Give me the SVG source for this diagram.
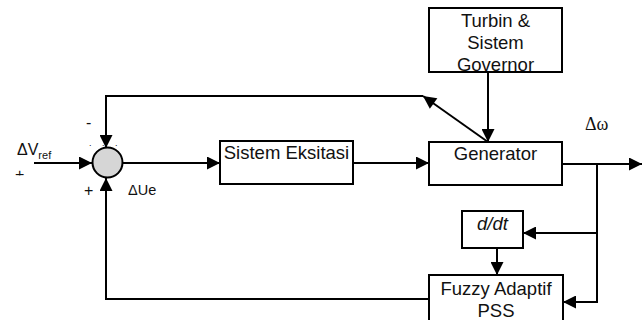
<svg xmlns="http://www.w3.org/2000/svg" width="642" height="320" viewBox="0 0 642 320">
<style>
.box{fill:#fff;stroke:#000;stroke-width:2}
.ln{fill:none;stroke:#000;stroke-width:2}
.t{font-family:"Liberation Sans",Arial,sans-serif;font-size:18.5px;fill:#111;text-anchor:middle}
.s{font-family:"Liberation Sans",Arial,sans-serif;fill:#111}
</style>
<defs>
<marker id="ar" viewBox="0 0 10 10" refX="10" refY="5" markerWidth="15" markerHeight="13" markerUnits="userSpaceOnUse" orient="auto">
<path d="M0,0 L10,5 L0,10 z" fill="#000"/>
</marker>
<clipPath id="cTurbin"><rect x="429" y="8" width="133" height="63"/></clipPath>
<clipPath id="cPlus"><rect x="0" y="165" width="60" height="10.5"/></clipPath>
</defs>
<g id="connectors">
<line class="ln" x1="34" y1="163" x2="92" y2="163" marker-end="url(#ar)"/>
<line class="ln" x1="488" y1="142" x2="423" y2="96" marker-end="url(#ar)"/>
<path class="ln" d="M423,96 H106 V148" marker-end="url(#ar)"/>
<line class="ln" x1="123" y1="163" x2="220" y2="163" marker-end="url(#ar)"/>
<line class="ln" x1="353" y1="163" x2="429" y2="163" marker-end="url(#ar)"/>
<line class="ln" x1="488" y1="72" x2="488" y2="142" marker-end="url(#ar)"/>
<line class="ln" x1="562" y1="164" x2="642" y2="164" marker-end="url(#ar)"/>
<path class="ln" d="M597,164 V302 H563" marker-end="url(#ar)"/>
<line class="ln" x1="597" y1="233" x2="523" y2="233" marker-end="url(#ar)"/>
<line class="ln" x1="497" y1="248" x2="497" y2="275" marker-end="url(#ar)"/>
<path class="ln" d="M429,299 H106 V178" marker-end="url(#ar)"/>
</g>
<g id="sum">
<ellipse cx="107.5" cy="162.5" rx="15" ry="15" fill="#d6d6d6" stroke="#000" stroke-width="2"/>
<text class="s" x="86" y="128" font-size="16">-</text>
<text class="s" x="89" y="146" font-size="9" letter-spacing="4">. . .</text>
<text class="s" x="84" y="196" font-size="16">+</text>
<text class="s" x="128" y="195" font-size="14.5">ΔUe</text>
</g>
<g id="input">
<text class="s" x="17" y="155" font-size="16">ΔV<tspan font-size="11" dy="4">ref</tspan></text>
<text class="s" x="15" y="180" font-size="16" clip-path="url(#cPlus)">+</text>
</g>
<g id="turbin">
<rect class="box" x="429" y="8" width="133" height="64"/>
<g clip-path="url(#cTurbin)">
<text class="t" x="495.5" y="27">Turbin &amp;</text>
<text class="t" x="495.5" y="49">Sistem</text>
<text class="t" x="495.5" y="71">Governor</text>
</g>
</g>
<g id="eksitasi">
<rect class="box" x="220" y="141" width="133" height="43"/>
<text class="t" x="286.5" y="159">Sistem Eksitasi</text>
</g>
<g id="generator">
<rect class="box" x="429" y="142" width="133" height="43"/>
<text class="t" x="495.5" y="160">Generator</text>
</g>
<g id="ddt">
<rect class="box" x="462" y="211" width="61" height="37"/>
<text class="t" x="492.5" y="230" font-style="italic">d/dt</text>
</g>
<g id="fuzzy">
<rect class="box" x="429" y="275" width="134" height="48"/>
<text class="t" x="496" y="295">Fuzzy Adaptif</text>
<text class="t" x="496" y="317">PSS</text>
</g>
<g id="output">
<text x="585" y="130" font-family="'Liberation Serif','Times New Roman',serif" font-size="18" fill="#111">Δω</text>
</g>
</svg>
